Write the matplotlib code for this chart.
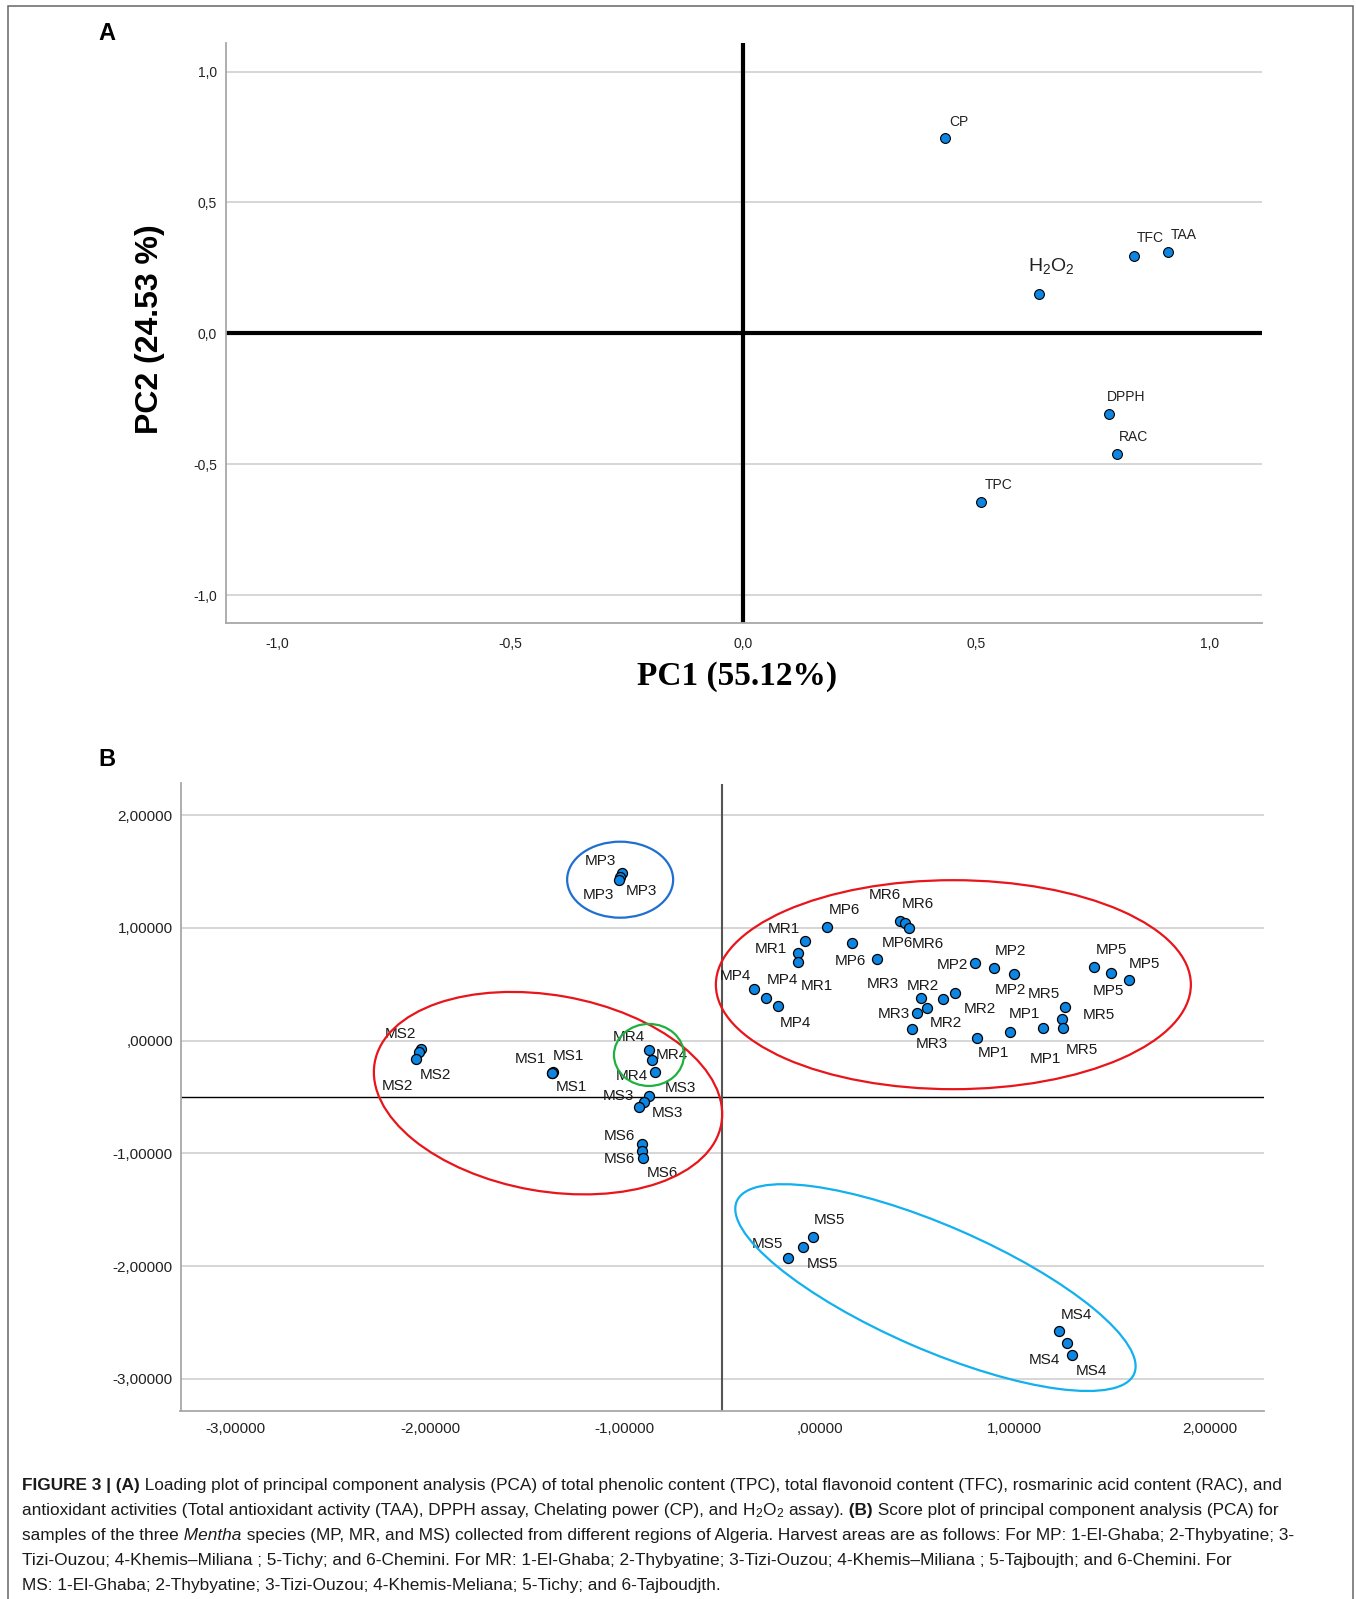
import numpy as np
import matplotlib.pyplot as plt
import matplotlib.transforms as mtransforms
from matplotlib.patches import Ellipse, Rectangle

plt.rcParams['font.family'] = ['Liberation Sans', 'DejaVu Sans']
plt.rcParams['mathtext.fontset'] = 'custom'
plt.rcParams['mathtext.rm'] = 'Liberation Sans'
plt.rcParams['mathtext.it'] = 'Liberation Sans:italic'
plt.rcParams['mathtext.bf'] = 'Liberation Sans:bold'

# ---- data: loading plot (A) ----
load_names = ["CP", "H$_2$O$_2$", "TFC", "TAA", "DPPH", "RAC", "TPC"]
load_pc1 = [0.433, 0.635, 0.838, 0.911, 0.785, 0.803, 0.511]
load_pc2 = [0.745, 0.151, 0.294, 0.311, -0.308, -0.462, -0.644]
a_ticks = [-1.0, -0.5, 0.0, 0.5, 1.0]
a_tick_labels = ["-1,0", "-0,5", "0,0", "0,5", "1,0"]

# ---- data: score plot (B) ----
score_names = (["MP1"] * 3 + ["MP2"] * 3 + ["MP3"] * 3 + ["MP4"] * 3 + ["MP5"] * 3 + ["MP6"] * 3
               + ["MR1"] * 3 + ["MR2"] * 3 + ["MR3"] * 3 + ["MR4"] * 3 + ["MR5"] * 3 + ["MR6"] * 3
               + ["MS1"] * 3 + ["MS2"] * 3 + ["MS3"] * 3 + ["MS4"] * 3 + ["MS5"] * 3 + ["MS6"] * 3)
score_pc1 = [0.805, 0.976, 1.147,
             0.795, 0.894, 0.996,
             -1.014, -1.023, -1.029,
             -0.337, -0.277, -0.215,
             1.408, 1.494, 1.586,
             0.036, 0.164, 0.292,
             -0.075, -0.111, -0.111,
             0.549, 0.634, 0.694,
             0.518, 0.497, 0.472,
             -0.877, -0.860, -0.846,
             1.258, 1.244, 1.246,
             0.412, 0.437, 0.459,
             -1.370, -1.376, -1.372,
             -2.046, -2.058, -2.070,
             -0.877, -0.901, -0.925,
             1.229, 1.267, 1.297,
             -0.161, -0.087, -0.033,
             -0.913, -0.913, -0.906]
score_pc2 = [0.025, 0.073, 0.111,
             0.684, 0.640, 0.592,
             1.482, 1.452, 1.423,
             0.454, 0.379, 0.309,
             0.649, 0.596, 0.534,
             1.009, 0.867, 0.722,
             0.885, 0.778, 0.696,
             0.291, 0.371, 0.421,
             0.377, 0.241, 0.102,
             -0.084, -0.173, -0.277,
             0.297, 0.193, 0.108,
             1.059, 1.039, 0.995,
             -0.276, -0.284, -0.290,
             -0.075, -0.105, -0.164,
             -0.492, -0.543, -0.592,
             -2.573, -2.679, -2.791,
             -1.931, -1.828, -1.745,
             -0.918, -0.982, -1.044]
b_ticks = [-3, -2, -1, 0, 1, 2]
b_tick_labels = ["-3,00000", "-2,00000", "-1,00000", ",00000", "1,00000", "2,00000"]

# label offsets (pixels) so the point labels sit like in the SPSS output
a_label_offsets = [(14, 16), (12, 28), (16, 18), (16, 17), (17, 17), (16, 17), (17, 17)]
b_label_offsets = [(17, -15), (15, 18), (2, -31),
                   (-22, -2), (17, 17), (-3, -16),
                   (-22, 12), (21, -14), (-21, -15),
                   (-19, 13), (17, 18), (18, -17),
                   (17, 17), (-2, -18), (16, 16),
                   (18, 17), (-1, -18), (21, 16),
                   (-21, 12), (-27, 4), (19, -24),
                   (-4, 22), (3, -24), (25, -16),
                   (-38, 14), (-23, -1), (20, -15),
                   (-20, 13), (20, 5), (-23, -4),
                   (-21, 13), (37, 4), (19, -22),
                   (-15, 26), (13, 19), (19, -16),
                   (-22, 13), (17, 17), (19, -14),
                   (-21, 15), (17, -23), (-19, -27),
                   (32, 8), (-26, 6), (28, -6),
                   (17, 16), (-22, -17), (19, -16),
                   (-21, 14), (20, -17), (16, 17),
                   (-22, 8), (-22, -8), (19, -15)]

W, H = 1356, 1599
BLUE = "#0d86e3"
fig = plt.figure(figsize=(W / 100, H / 100), dpi=100)


def px_box(x0, y0, x1, y1):
    return [x0 / W, 1 - y1 / H, (x1 - x0) / W, (y1 - y0) / H]


def style_axes(ax, gridlines, ticks, labels, xpad, ypad, size):
    for y in gridlines:
        ax.axhline(y, color="#cfcfcf", lw=1.2, zorder=1)
    for side in ["top", "right"]:
        ax.spines[side].set_visible(False)
    for side in ["left", "bottom"]:
        ax.spines[side].set_color("#a8a8a8")
        ax.spines[side].set_linewidth(1.3)
    ax.set_xticks(ticks)
    ax.set_xticklabels(labels)
    ax.set_yticks(ticks)
    ax.set_yticklabels(labels)
    ax.tick_params(axis="x", length=0, pad=xpad, labelsize=size, labelcolor="#222222")
    ax.tick_params(axis="y", length=0, pad=ypad, labelsize=size, labelcolor="#222222")


def ring(ax, cx, cy, a, b, angle, color):
    # ellipse sized in pixels, centred on a data point
    tr = mtransforms.Affine2D() + mtransforms.ScaledTranslation(cx, cy, ax.transData)
    ax.add_patch(Ellipse((0, 0), 2 * a, 2 * b, angle=angle, transform=tr,
                         fill=False, ec=color, lw=1.6, zorder=4, clip_on=False))


# ---------------- panel A ----------------
axA = fig.add_axes(px_box(225.5, 42.8, 1262, 623.3))
axA.set_xlim(-1.11, 1.113)
axA.set_ylim(-1.108, 1.11)
style_axes(axA, [-1.0, -0.5, 0.5, 1.0], a_ticks, a_tick_labels, 10, 6, 10)
axA.axhline(0, color="black", lw=3, zorder=2)
axA.axvline(0, color="black", lw=3, zorder=2)
axA.scatter(load_pc1, load_pc2, s=50, c=BLUE, edgecolors="black", linewidths=0.8, zorder=3)
for x, y, name, (dx, dy) in zip(load_pc1, load_pc2, load_names, a_label_offsets):
    axA.annotate(name, (x, y), xytext=(dx, dy), textcoords="offset pixels",
                 ha="center", va="center", fontsize=14 if "$" in name else 10, color="#222222")

fig.text(150 / W, 1 - 329 / H, "PC2 (24.53 %)", rotation=90, fontsize=23, fontweight="bold",
         ha="center", va="center")
fig.text(737 / W, 1 - 676 / H, "PC1 (55.12%)", fontsize=24, fontweight="bold",
         family="Liberation Serif", ha="center", va="center")
fig.text(107 / W, 1 - 33.6 / H, "A", fontsize=17, fontweight="bold", ha="center", va="center")

# ---------------- panel B ----------------
axB = fig.add_axes(px_box(180.5, 783.5, 1264, 1410.5))
axB.set_xlim(-3.28, 2.28)
axB.set_ylim(-3.28, 2.28)
style_axes(axB, [-3, -2, -1, 0, 1, 2], b_ticks, b_tick_labels, 8, 5.5, 11)
axB.axhline(-0.5, color="black", lw=1.0, zorder=2)
axB.axvline(-0.5, color="#555555", lw=1.5, zorder=2)
axB.scatter(score_pc1, score_pc2, s=52, c=BLUE, edgecolors="black", linewidths=0.9, zorder=3)
for x, y, name, (dx, dy) in zip(score_pc1, score_pc2, score_names, b_label_offsets):
    axB.annotate(name, (x, y), xytext=(dx, dy), textcoords="offset pixels",
                 ha="center", va="center", fontsize=11, color="#1a1a1a")

ring(axB, -1.024, 1.427, 53, 38, 0, "#1f6fd0")
ring(axB, -1.394, -0.466, 176, 98, -10, "#e8151b")
ring(axB, -0.876, -0.127, 35, 31, 0, "#1fb040")
ring(axB, 0.686, 0.496, 237.5, 104.5, 0, "#e8151b")
ring(axB, 0.594, -2.19, 216.6, 62, -23.5, "#12b0ee")

fig.text(107 / W, 1 - 759.5 / H, "B", fontsize=17, fontweight="bold", ha="center", va="center")

# ---------------- caption ----------------
cap_lines = [
    [("FIGURE 3 | (A)", "b"),
     (" Loading plot of principal component analysis (PCA) of total phenolic content (TPC), "
      "total flavonoid content (TFC), rosmarinic acid content (RAC), and", "r")],
    [("antioxidant activities (Total antioxidant activity (TAA), DPPH assay, Chelating power (CP), and", "r"),
     (" H$_2$O$_2$ assay).", "r"),
     (" (B)", "b"),
     (" Score plot of principal component analysis (PCA) for", "r")],
    [("samples of the three", "r"), (" Mentha", "i"),
     (" species (MP, MR, and MS) collected from different regions of Algeria. Harvest areas are as "
      "follows: For MP: 1-El-Ghaba; 2-Thybyatine; 3-", "r")],
    [("Tizi-Ouzou; 4-Khemis\u2013Miliana ; 5-Tichy; and 6-Chemini. For MR: 1-El-Ghaba; 2-Thybyatine; "
      "3-Tizi-Ouzou; 4-Khemis\u2013Miliana ; 5-Tajboujth; and 6-Chemini. For", "r")],
    [("MS: 1-El-Ghaba; 2-Thybyatine; 3-Tizi-Ouzou; 4-Khemis-Meliana; 5-Tichy; and 6-Tajboudjth.", "r")],
]
cap_baselines = [1490, 1515, 1540, 1565, 1590]
cap_size = 12.4

renderer = fig.canvas.get_renderer()
for base, parts in zip(cap_baselines, cap_lines):
    x = 22.4
    for s, st in parts:
        t = fig.text(x / W, 1 - base / H, s, fontsize=cap_size, va="baseline", ha="left",
                     fontweight="bold" if st == "b" else "normal",
                     fontstyle="italic" if st == "i" else "normal", color="#1a1a1a")
        x += t.get_window_extent(renderer=renderer).width

fig.add_artist(Rectangle((8 / W, -0.01), (1353 - 8) / W, 1 - 6 / H + 0.01, fill=False,
                         ec="#666666", lw=1.1, transform=fig.transFigure))

fig.savefig("out.png", dpi=100)
